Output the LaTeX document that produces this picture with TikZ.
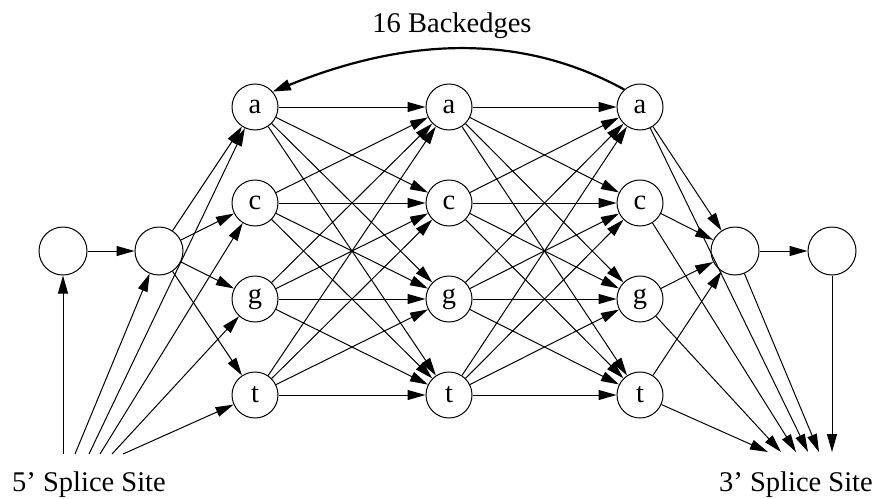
\documentclass[tikz,border=0pt]{standalone}
\usepackage{fontspec}
\setmainfont{Liberation Serif}
\usetikzlibrary{arrows.meta}
\begin{document}
\begin{tikzpicture}[x=1pt,y=-1pt,
  st/.style={circle,draw,line width=1pt,minimum size=46pt,inner sep=0pt,font=\fontsize{28.5}{34}\selectfont},
  bg/.style={st,minimum size=48pt},
  ed/.style={-{Triangle[length=18pt,width=10pt]},line width=1pt},
  back/.style={-{Triangle[length=18pt,width=11pt]},line width=2.2pt},
  lab/.style={font=\fontsize{28.5}{34}\selectfont,anchor=base,inner sep=0pt}]
\useasboundingbox (0,0) rectangle (875,498);
\node[bg] (L1) at (63,251) {};
\node[bg] (L2) at (159,251) {};
\node[bg] (R1) at (735,251) {};
\node[bg] (R2) at (832,251) {};
\foreach \col/\x in {1/255,2/449,3/640}{
  \foreach \r/\y in {a/107,c/203,g/299,t/395}{
    \node[st] (\r\col) at (\x,\y) {\r};
  }
}
\foreach \i in {a,c,g,t}{
  \foreach \j in {a,c,g,t}{
    \draw[ed] (\i1) -- (\j2);
    \draw[ed] (\i2) -- (\j3);
  }
  \draw[ed] (L2) -- (\i1);
  \draw[ed] (\i3) -- (R1);
}
\draw[ed] (L1) -- (L2);
\draw[ed] (R1) -- (R2);
% 5' splice site sources
\coordinate (f0) at (63,454);
\coordinate (f1) at (75,454);
\coordinate (f2) at (89,454);
\coordinate (f3) at (100,454);
\coordinate (f4) at (112,454);
\coordinate (f5) at (123,454);
\draw[ed] (f0) -- (L1);
\draw[ed] (f1) -- (L2);
\draw[ed] (f2) -- (a1);
\draw[ed] (f3) -- (c1);
\draw[ed] (f4) -- (g1);
\draw[ed] (f5) -- (t1);
% 3' splice site targets
\coordinate (e0) at (768,452);
\coordinate (e1) at (781,452);
\coordinate (e2) at (796,452);
\coordinate (e3) at (808,452);
\coordinate (e4) at (819,452);
\coordinate (e5) at (832,452);
\draw[ed] (t3) -- (e0);
\draw[ed] (g3) -- (e1);
\draw[ed] (c3) -- (e2);
\draw[ed] (a3) -- (e3);
\draw[ed] (R1) -- (e4);
\draw[ed] (R2) -- (e5);
% backedges
\draw[back] (a3.132) .. controls (521,33) and (408,37) .. (a1.41);
\node[lab] (bk) at (452,32) {16 Backedges};
\node[lab] (s5) at (89,491) {5’ Splice Site};
\node[lab] (s3) at (796,491) {3’ Splice Site};
\end{tikzpicture}
\end{document}
